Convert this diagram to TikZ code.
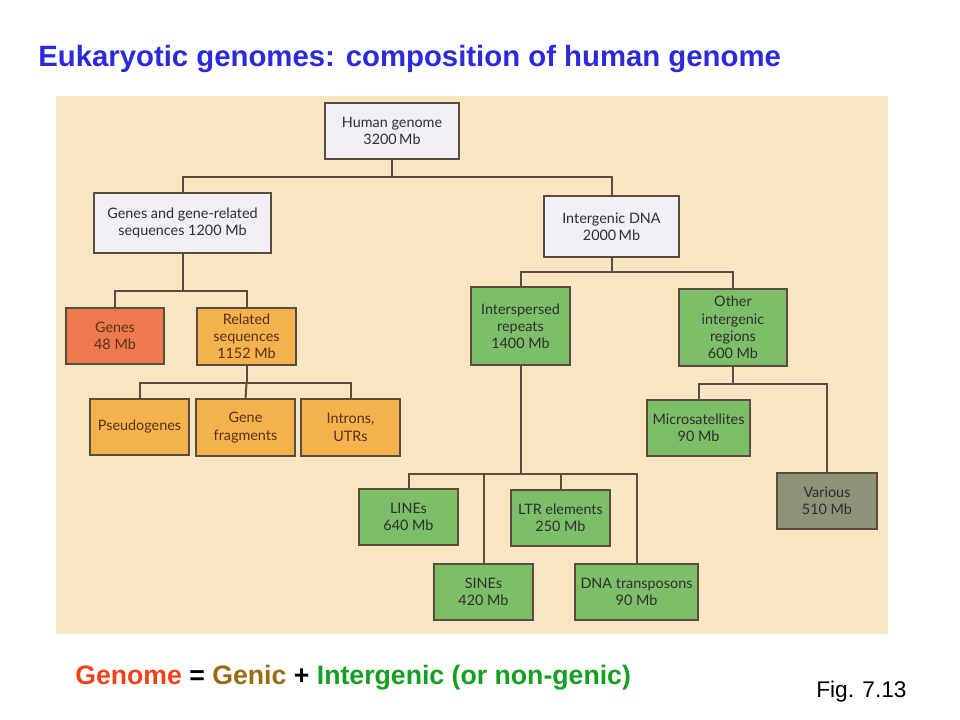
\documentclass[tikz,border=0pt]{standalone}
\usepackage{fontspec}
\setmainfont{Liberation Sans}
\newfontfamily\boxfont{Lato}
\definecolor{panel}{HTML}{F8E6C2}
\definecolor{wbox}{HTML}{F0F0F6}
\definecolor{rbox}{HTML}{EC7A4E}
\definecolor{obox}{HTML}{F4B24F}
\definecolor{gbox}{HTML}{7DBE68}
\definecolor{vbox}{HTML}{8E9278}
\definecolor{edge}{HTML}{5A4C3E}
\definecolor{btext}{HTML}{2E2E2E}
\definecolor{otext}{HTML}{5A3018}
\definecolor{titleblue}{HTML}{2B2BDD}
\definecolor{gred}{HTML}{F0421A}
\definecolor{gbrown}{HTML}{9A6A10}
\definecolor{ggreen}{HTML}{13A020}
\tikzset{
  x=0.75pt, y=-0.75pt,
  gbase/.style={draw=edge, line width=0.9pt, align=center, inner sep=0pt,
    font=\boxfont\fontsize{10.8}{12.9}\selectfont, text=btext},
  wb/.style={gbase, fill=wbox},
  rb/.style={gbase, fill=rbox, text=otext},
  ob/.style={gbase, fill=obox, text=otext},
  gb/.style={gbase, fill=gbox},
  vb/.style={gbase, fill=vbox},
  sz/.style 2 args={minimum width=#1*0.75pt, minimum height=#2*0.75pt},
  conn/.style={draw=edge, line width=1.5pt}
}
\begin{document}
\begin{tikzpicture}
\useasboundingbox (0,0) rectangle (960,720);
\fill[white] (0,0) rectangle (960,720);
\fill[panel] (56,96) rectangle (888,634);

% title
\node[anchor=base west, inner sep=0pt, text=titleblue, font=\bfseries\fontsize{22}{26}\selectfont] (title) at (38,67) {Eukaryotic genomes: composition of human genome};

% boxes
\node[wb, sz={134}{56}] (hg) at (392,131) {Human genome\\3200\,Mb};
\node[wb, sz={177}{60}] (ggr) at (182.5,223) {Genes and gene-related\\sequences 1200 Mb};
\node[wb, sz={135}{61}] (idna) at (611.5,226.5) {Intergenic DNA\\2000\,Mb};
\node[rb, sz={98}{56}] (genes) at (115,336) {Genes\\48 Mb};
\node[ob, sz={99}{57}] (rel) at (246.5,336.5) {Related\\sequences\\1152 Mb};
\node[gb, sz={99}{78}] (inter) at (520.5,326) {Interspersed\\repeats\\1400 Mb};
\node[gb, sz={108}{77}] (other) at (733,327.5) {Other\\intergenic\\regions\\600 Mb};
\node[ob, sz={99}{56}] (pseudo) at (139.5,427) {Pseudogenes};
\node[ob, sz={99}{57}] (frag) at (245.5,427.5) {Gene\\fragments};
\node[ob, sz={99}{57}] (intr) at (350.5,427.5) {Introns,\\UTRs};
\node[gb, sz={99}{56}] (lines) at (408.5,517) {LINEs\\640 Mb};
\node[gb, sz={99}{56}] (sines) at (483.5,592) {SINEs\\420 Mb};
\node[gb, sz={99}{56}] (ltr) at (560.5,518) {LTR elements\\250 Mb};
\node[gb, sz={123}{56}] (dna) at (636.5,592) {DNA transposons\\90 Mb};
\node[gb, sz={103}{56}] (micro) at (698.5,428) {Microsatellites\\90 Mb};
\node[vb, sz={100}{56}] (various) at (827,501) {Various\\510 Mb};

% bus points
\coordinate (b1) at (392,177);
\coordinate (b2) at (182.5,291);
\coordinate (b3) at (611.5,272);
\coordinate (b4) at (246.5,383);
\coordinate (b5) at (520.5,474);
\coordinate (b6) at (733,384);

\draw[conn] (hg.south) -- (b1) -| (ggr.north);
\draw[conn] (b1) -| (idna.north);
\draw[conn] (ggr.south) -- (b2) -| (genes.north);
\draw[conn] (b2) -| (rel.north);
\draw[conn] (idna.south) -- (b3) -| (inter.north);
\draw[conn] (b3) -| (other.north);
\draw[conn] (rel.south) -- (b4) -| (pseudo.north);
\draw[conn] (b4) -- (frag.north);
\draw[conn] (b4) -| (intr.north);
\draw[conn] (inter.south) -- (b5) -| (lines.north);
\draw[conn] (b5) -| (sines.north);
\draw[conn] (b5) -| (ltr.north);
\draw[conn] (b5) -| (dna.north);
\draw[conn] (other.south) -- (b6) -| (micro.north);
\draw[conn] (b6) -| (various.north);

% bottom text
\node[anchor=base west, inner sep=0pt, font=\bfseries\fontsize{20}{24}\selectfont] (eq) at (75,684)
  {\textcolor{gred}{Genome} = \textcolor{gbrown}{Genic} + \textcolor{ggreen}{Intergenic (or non-genic)}};
\node[anchor=base west, inner sep=0pt, font=\fontsize{17}{20}\selectfont] (fig) at (816,697) {Fig. 7.13};
\end{tikzpicture}
\end{document}
